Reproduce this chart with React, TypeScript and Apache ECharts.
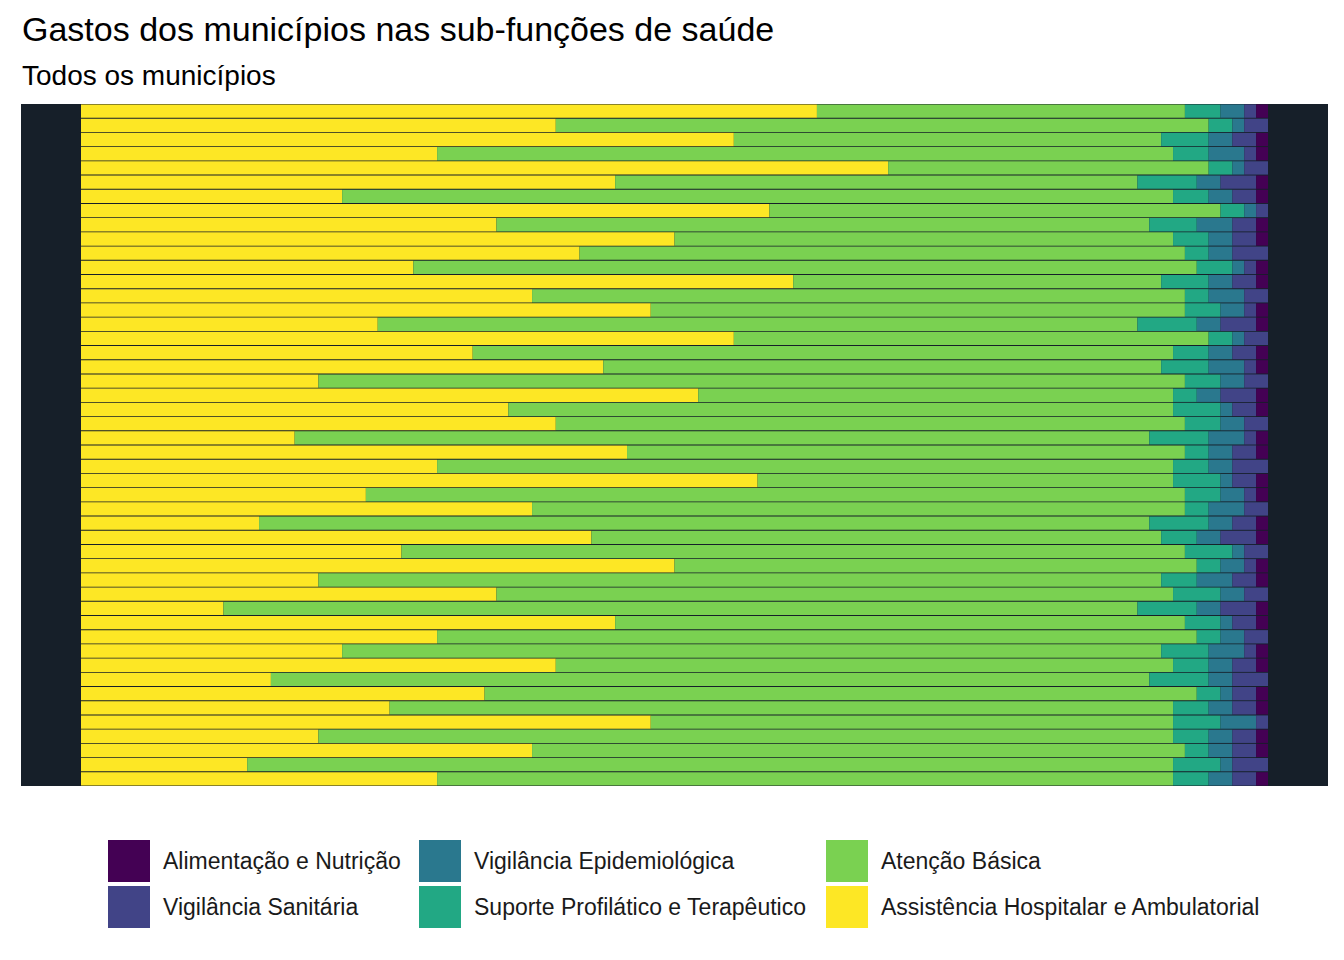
import React, { useEffect, useRef } from 'react';
import * as echarts from 'echarts';

const municipios = Array.from({ length: 48 }, (_, i) => `M${i + 1}`);
const assistencia = [62,40,55,30,68,45,22,58,35,50,42,28,60,38,48,25,55,33,44,20,52,36,40,18,46,30,57,24,38,15,43,27,50,20,35,12,45,30,22,40,16,34,26,48,20,38,14,30];
const atencao = [31,55,36,62,27,44,70,38,55,42,51,66,31,55,45,64,40,59,47,73,40,56,53,72,47,62,35,69,55,75,48,66,44,71,57,77,48,64,69,52,74,60,66,44,72,55,78,62];
const suporte = [3,2,4,3,2,5,3,2,4,3,2,3,4,2,3,5,2,3,4,3,2,4,3,5,2,3,4,3,2,5,3,4,2,3,4,5,3,2,4,3,5,2,3,4,3,2,4,3];
const epidemiologica = [2,1,2,3,1,2,2,1,3,2,2,1,2,3,2,2,1,2,3,2,2,1,2,3,2,2,1,2,3,2,2,1,2,3,2,2,1,2,3,2,2,1,2,3,2,2,1,2];
const sanitaria = [1,2,2,1,2,3,2,1,2,2,3,1,2,2,1,3,2,2,1,2,3,2,2,1,2,3,2,1,2,2,3,2,1,2,2,3,2,2,1,2,3,2,2,1,2,2,3,2];
const alimentacao = [1,0,1,1,0,1,1,0,1,1,0,1,1,0,1,1,0,1,1,0,1,1,0,1,1,0,1,1,0,1,1,0,1,1,0,1,1,0,1,1,0,1,1,0,1,1,0,1];

const seriesDef = [
  { name: 'Assistência Hospitalar e Ambulatorial', data: assistencia, color: '#FDE725' },
  { name: 'Atenção Básica', data: atencao, color: '#7AD151' },
  { name: 'Suporte Profilático e Terapêutico', data: suporte, color: '#22A884' },
  { name: 'Vigilância Epidemiológica', data: epidemiologica, color: '#2A788E' },
  { name: 'Vigilância Sanitária', data: sanitaria, color: '#414487' },
  { name: 'Alimentação e Nutrição', data: alimentacao, color: '#440154' },
];

const legendPos = [
  { name: 'Alimentação e Nutrição', left: 103, top: 835 },
  { name: 'Vigilância Sanitária', left: 103, top: 881 },
  { name: 'Vigilância Epidemiológica', left: 414, top: 835 },
  { name: 'Suporte Profilático e Terapêutico', left: 414, top: 881 },
  { name: 'Atenção Básica', left: 821, top: 835 },
  { name: 'Assistência Hospitalar e Ambulatorial', left: 821, top: 881 },
];

const App: React.FC = () => {
  const chartRef = useRef<HTMLDivElement>(null);

  useEffect(() => {
    document.body.style.margin = '0';
    if (!chartRef.current) return;
    const chart = echarts.init(chartRef.current, null, { renderer: 'svg' });
    chart.setOption({
      animation: false,
      textStyle: { fontFamily: 'Liberation Sans, Arial, sans-serif' },
      title: [
        { text: 'Gastos dos municípios nas sub-funções de saúde', left: 17, top: 7, textStyle: { fontSize: 34, fontWeight: 'normal', color: '#000' } },
        { text: 'Todos os municípios', left: 17, top: 56, textStyle: { fontSize: 28, fontWeight: 'normal', color: '#000' } },
      ],
      graphic: [
        { type: 'rect', z: -10, shape: { x: 21, y: 104, width: 1307, height: 682 }, style: { fill: '#161f29' } },
      ],
      legend: legendPos.map((l) => ({
        data: [l.name],
        left: l.left,
        top: l.top,
        icon: 'rect',
        itemWidth: 42,
        itemHeight: 42,
        itemGap: 0,
        textStyle: { fontSize: 23, color: '#1a1a1a', padding: [0, 0, 0, 8] },
        selectedMode: false,
      })),
      grid: { left: 81, right: 76, top: 104, bottom: 174 },
      xAxis: { type: 'value', min: 0, max: 100, show: false },
      yAxis: { type: 'category', data: municipios, inverse: true, show: false },
      series: seriesDef.map((s) => ({
        name: s.name,
        type: 'bar',
        stack: 'total',
        data: s.data,
        barCategoryGap: '6%',
        itemStyle: { color: s.color },
      })),
    });
    return () => chart.dispose();
  }, []);

  return <div ref={chartRef} style={{ width: 1344, height: 960 }} />;
};

export default App;
